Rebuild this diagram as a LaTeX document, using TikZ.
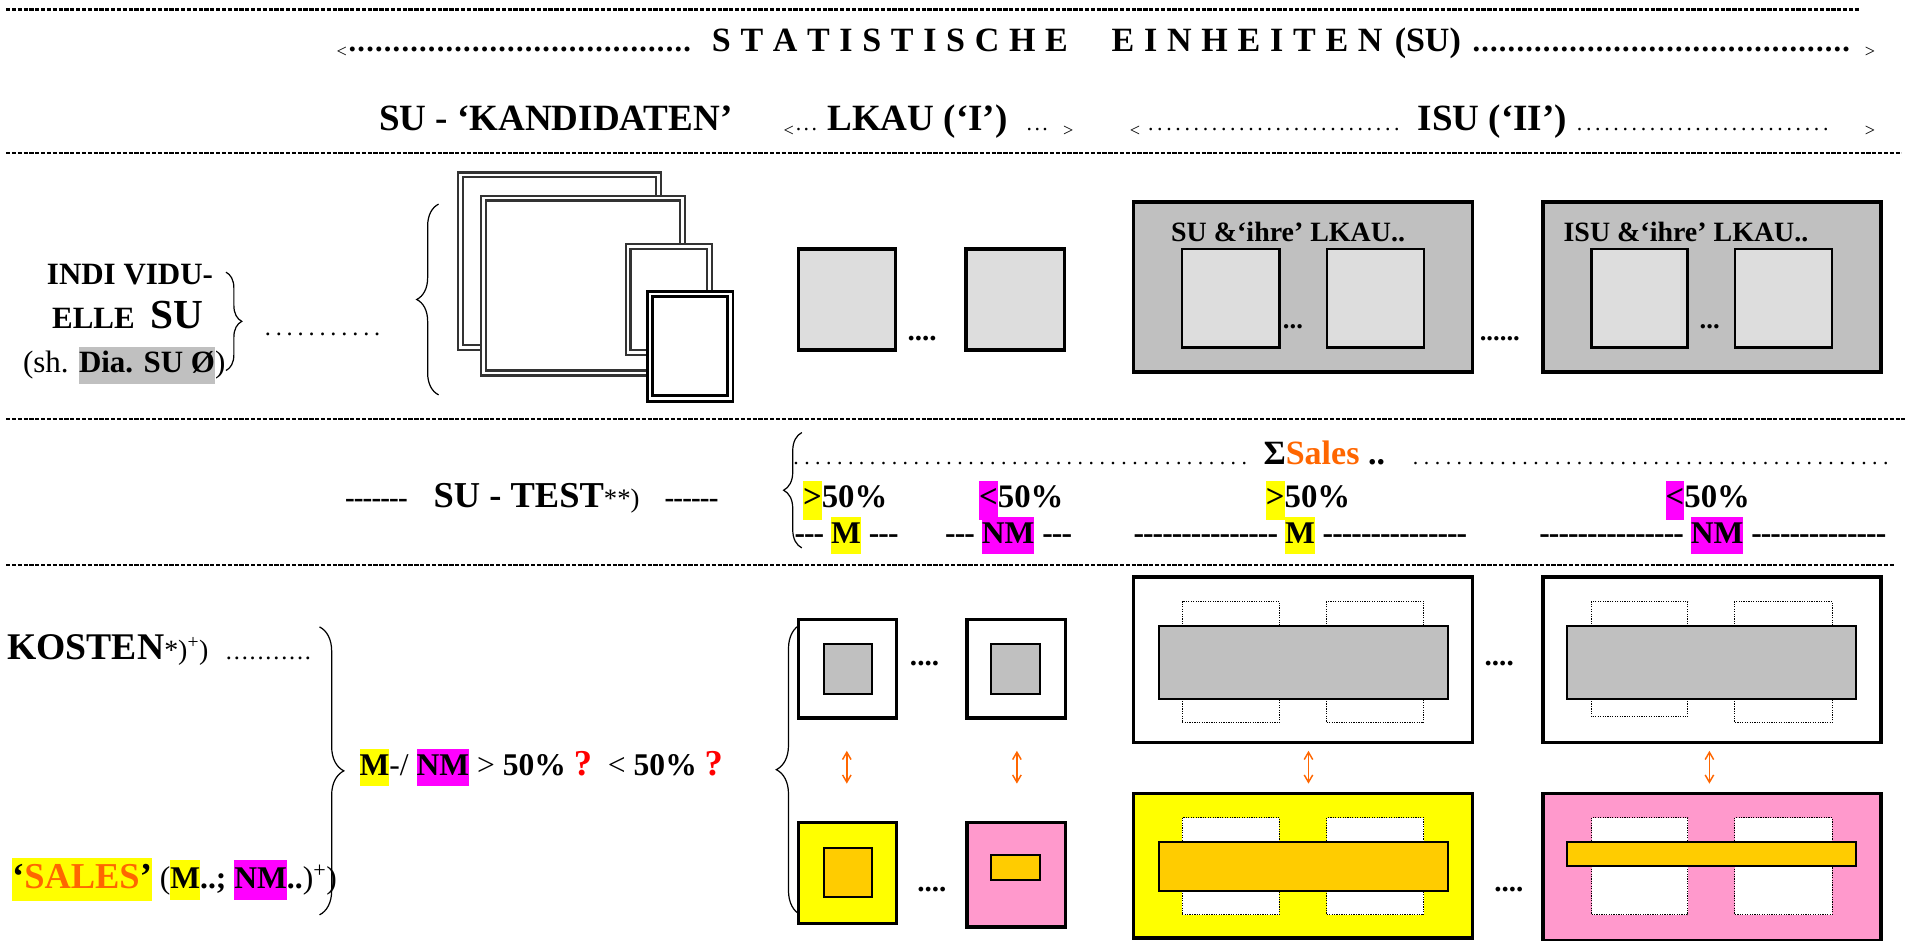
\documentclass[tikz,border=0pt]{standalone}
\usepackage{fontspec}
\setmainfont{Liberation Serif}
\usetikzlibrary{decorations.pathreplacing,arrows.meta}
\definecolor{hlyellow}{HTML}{FFFF00}
\definecolor{hlmag}{HTML}{FF00FF}
\definecolor{hlgray}{HTML}{C0C0C0}
\definecolor{lgray}{HTML}{DDDDDD}
\definecolor{pinkf}{HTML}{FF99CC}
\definecolor{goldf}{HTML}{FFCC00}
\definecolor{orangeT}{HTML}{FF6600}
\newcommand\hlc[2]{{\setlength{\fboxsep}{0pt}\colorbox{#1}{\strut #2}}}
\newcommand\fs[2]{\fontsize{#1}{#2}\selectfont}
\newcommand\dotsto[2][1pt]{\hbox to #2{\leaders\hbox{.\kern#1}\hfill}}
\ExplSyntaxOn
\cs_new:Npn \hyphs #1 { \prg_replicate:nn {#1} { -\kern-0.03em\relax } }
\ExplSyntaxOff
\tikzset{
  txt/.style={anchor=base west, inner sep=0pt, outer sep=0pt},
  ctxt/.style={anchor=base, inner sep=0pt, outer sep=0pt},
  sep/.style={line width=2.2pt, dash pattern=on 3.5pt off 1.3pt},
  brc/.style={decorate, decoration={brace, amplitude=#1}, line width=1pt},
  brc/.default=10pt,
  ovframe/.style={draw=black!80, double=white, double distance=2.2pt, line width=1.8pt, fill=white},
  ovframefour/.style={draw=black, double=white, double distance=2.2pt, line width=2.2pt, fill=white},
  lkau/.style={draw=black, line width=2.8pt, fill=lgray},
  lkaui/.style={draw=black, line width=2pt, fill=lgray},
  isu/.style={draw=black, line width=3pt, fill=hlgray},
  bigw/.style={draw=black, line width=3pt, fill=white},
  dotr/.style={draw=black, line width=0.9pt, dash pattern=on 1pt off 1pt},
  innerb/.style={draw=black, line width=1.6pt},
  oarr/.style={draw=orangeT, line width=1.2pt, {Straight Barb[length=6pt,width=7pt]}-{Straight Barb[length=6pt,width=7pt]}},
}
\begin{document}
\begin{tikzpicture}[x=1pt,y=-1pt]
\useasboundingbox (0,0) rectangle (1568,774);
% separators
\coordinate (s1a) at (5,8);   \coordinate (s1b) at (1531,8);
\coordinate (s2a) at (5,126); \coordinate (s2b) at (1565,126);
\coordinate (s3a) at (5,345); \coordinate (s3b) at (1568,345);
\coordinate (s4a) at (5,465); \coordinate (s4b) at (1559,465);
\draw[sep] (s1a) -- (s1b);
\draw[sep] (s2a) -- (s2b);
\draw[sep] (s3a) -- (s3b);
\draw[sep] (s4a) -- (s4b);
% row 1 title
\node[txt] (t1) at (277,47) {\fs{15}{18}<};
\node[txt] (t2) at (287,42) {\bfseries\fs{25}{30}\dotsto{283pt}};
\node[txt] (t3) at (586,42) {\bfseries\fs{28}{34}\hbox to 293pt{S\hfill T\hfill A\hfill T\hfill I\hfill S\hfill T\hfill I\hfill S\hfill C\hfill H\hfill E}};
\node[txt] (t4) at (915,42) {\bfseries\fs{28}{34}\hbox to 223pt{E\hfill I\hfill N\hfill H\hfill E\hfill I\hfill T\hfill E\hfill N}};
\node[txt] (t5) at (1148,42) {\bfseries\fs{28}{34}(SU)};
\node[txt] (t6) at (1212,42) {\bfseries\fs{25}{30}\dotsto{314pt}};
\node[txt] (t7) at (1535,47) {\fs{15}{18}>};
% row 2
\node[txt] (k1) at (312,107) {\bfseries\fs{30.5}{36}SU - ‘KANDIDATEN’};
\node[txt] (k2) at (645,112) {\fs{15}{18}<};
\node[txt] (k3) at (655,107) {\fs{18}{22}\dotsto[2pt]{20pt}};
\node[txt] (k4) at (681,107) {\bfseries\fs{30.5}{36}LKAU (‘I’)};
\node[txt] (k5) at (845,107) {\fs{18}{22}\dotsto[2pt]{22pt}};
\node[txt] (k6) at (875,112) {\fs{15}{18}>};
\node[txt] (k7) at (930,112) {\fs{15}{18}<};
\node[txt] (k8) at (945,107) {\fs{18}{22}\dotsto[3pt]{215pt}};
\node[txt] (k9) at (1167,107) {\bfseries\fs{30.5}{36}ISU (‘II’)};
\node[txt] (k10) at (1298,107) {\fs{18}{22}\dotsto[3pt]{217pt}};
\node[txt] (k11) at (1535,112) {\fs{15}{18}>};
% row 3 left
\node[ctxt] (i1) at (107,234) {\bfseries\fs{25.5}{30}INDI VIDU-};
\node[ctxt] (i2) at (105,270) {\bfseries\fs{25.5}{30}ELLE\ \ {\fs{34}{40}SU}};
\node[txt] (i3) at (19,307) {\fs{25.5}{30}(sh. \hlc{hlgray}{\bfseries Dia. SU Ø})};
\coordinate (b1t) at (186,224); \coordinate (b1b) at (186,305);
\draw[brc=13pt] (b1t) -- (b1b);
\node[txt] (i4) at (218,276) {\fs{20}{24}\dotsto[4pt]{104pt}};
\coordinate (b2t) at (361,168); \coordinate (b2b) at (361,325);
\draw[brc=18pt] (b2b) -- (b2t);
\draw[ovframe] (379,144) rectangle (542,286);
\draw[ovframe] (398,163) rectangle (562,307);
\draw[ovframe] (517,203) rectangle (584,290);
\draw[ovframefour] (535,242) rectangle (601,328);
% LKAU
\draw[lkau] (657,205) rectangle (737,288);
\draw[lkau] (795,205) rectangle (876,288);
\node[txt] (d1) at (747,280) {\bfseries\fs{24}{29}....};
% ISU boxes
\draw[isu] (933,166) rectangle (1212,306);
\node[txt] (u1) at (964,199) {\bfseries\fs{23}{27}SU \&‘ihre’ LKAU..};
\draw[lkaui] (973,205) rectangle (1053,286);
\draw[lkaui] (1092,205) rectangle (1172,286);
\node[txt] (d2) at (1056,270) {\bfseries\fs{22}{26}...};
\node[txt] (d3) at (1218,280) {\bfseries\fs{22}{26}......};
\draw[isu] (1270,166) rectangle (1548,306);
\node[txt] (u2) at (1287,199) {\bfseries\fs{23}{27}ISU \&‘ihre’ LKAU..};
\draw[lkaui] (1310,205) rectangle (1389,286);
\draw[lkaui] (1428,205) rectangle (1508,286);
\node[txt] (d4) at (1399,270) {\bfseries\fs{22}{26}...};
% row 4
\node[txt] (r1) at (284,418) {\bfseries\fs{24}{29}\hyphs{7}};
\node[txt] (r2) at (357,418) {{\bfseries\fs{30}{36}SU - TEST}{\fs{22}{26}**)}};
\node[txt] (r4) at (547,418) {\bfseries\fs{24}{29}\hyphs{6}};
\coordinate (b3t) at (660,356); \coordinate (b3b) at (660,451);
\draw[brc=15pt] (b3b) -- (b3t);
\node[txt] (s1) at (653,382) {\fs{18}{22}\dotsto[4.5pt]{385pt}};
\node[txt] (s2) at (1040,382) {\bfseries\fs{28}{34}Σ\textcolor{orangeT}{Sales} ..};
\node[txt] (s3) at (1163,382) {\fs{18}{22}\dotsto[4.5pt]{401pt}};
\node[txt] (p1) at (661,418) {\bfseries\fs{27}{32}\hlc{hlyellow}{>}50\%};
\node[txt] (p2) at (806,418) {\bfseries\fs{27}{32}\hlc{hlmag}{<}50\%};
\node[txt] (p3) at (1042,418) {\bfseries\fs{27}{32}\hlc{hlyellow}{>}50\%};
\node[txt] (p4) at (1371,418) {\bfseries\fs{27}{32}\hlc{hlmag}{<}50\%};
\node[txt] (m1) at (654,447) {\bfseries\fs{26}{31}\hyphs{3} \hlc{hlyellow}{M} \hyphs{3}};
\node[txt] (m2) at (778,447) {\bfseries\fs{26}{31}\hyphs{3} \hlc{hlmag}{NM} \hyphs{3}};
\node[txt] (m3) at (933,447) {\bfseries\fs{26}{31}\hyphs{15} \hlc{hlyellow}{M} \hyphs{15}};
\node[txt] (m4) at (1267,447) {\bfseries\fs{26}{31}\hyphs{15} \hlc{hlmag}{NM} \hyphs{14}};
% row 5 left
\node[txt] (c1) at (6,543) {\bfseries\fs{31}{37}KOSTEN{\mdseries\fs{23}{27}*)\textsuperscript{+})}};
\node[txt] (c2) at (186,543) {\fs{20}{24}\dotsto[1.5pt]{76pt}};
\coordinate (b4t) at (263,516); \coordinate (b4b) at (263,753);
\draw[brc=20pt] (b4t) -- (b4b);
\node[txt] (q1) at (296,638) {\fs{26}{31}\hlc{hlyellow}{\bfseries M}-/ \hlc{hlmag}{\bfseries NM} > \textbf{50\%} \textcolor{red}{\bfseries\fs{30}{36}?}\ \ < \textbf{50\%} \textcolor{red}{\bfseries\fs{30}{36}?}};
\node[txt] (q2) at (10,731) {{\fs{30}{36}\hlc{hlyellow}{\bfseries ‘\textcolor{orangeT}{SALES}’}}{\fs{26}{33} (\hlc{hlyellow}{\bfseries M}\textbf{..;} \hlc{hlmag}{\bfseries NM}\textbf{..})\textsuperscript{+})}};
\coordinate (b5t) at (659,514); \coordinate (b5b) at (659,753);
\draw[brc=20pt] (b5b) -- (b5t);
% row 5 top boxes
\draw[lkau, fill=white] (657,510) rectangle (738,591);
\draw[innerb, fill=hlgray] (678,530) rectangle (718,571);
\draw[lkau, fill=white] (796,510) rectangle (877,591);
\draw[innerb, fill=hlgray] (816,530) rectangle (856,571);
\node[txt] (d5) at (749,548) {\bfseries\fs{24}{29}....};
\draw[bigw] (933,475) rectangle (1212,611);
\draw[dotr] (973,495) rectangle (1053,595);
\draw[dotr] (1092,495) rectangle (1172,595);
\draw[innerb, fill=hlgray] (954,515) rectangle (1192,575);
\node[txt] (d6) at (1222,548) {\bfseries\fs{24}{29}....};
\draw[bigw] (1270,475) rectangle (1548,611);
\draw[dotr] (1310,495) rectangle (1389,590);
\draw[dotr] (1428,495) rectangle (1508,595);
\draw[innerb, fill=hlgray] (1290,515) rectangle (1528,575);
% arrows
\coordinate (a1t) at (697,618);  \coordinate (a1b) at (697,645);
\coordinate (a2t) at (837,618);  \coordinate (a2b) at (837,645);
\coordinate (a3t) at (1077,618); \coordinate (a3b) at (1077,645);
\coordinate (a4t) at (1407,618); \coordinate (a4b) at (1407,645);
\draw[oarr] (a1t) -- (a1b);
\draw[oarr] (a2t) -- (a2b);
\draw[oarr] (a3t) -- (a3b);
\draw[oarr] (a4t) -- (a4b);
% row 5 bottom boxes
\draw[lkau, fill=hlyellow] (657,677) rectangle (738,760);
\draw[innerb, fill=goldf] (678,698) rectangle (718,738);
\draw[lkau, fill=pinkf] (796,677) rectangle (877,763);
\draw[innerb, fill=goldf] (816,704) rectangle (856,724);
\node[txt] (d7) at (755,734) {\bfseries\fs{24}{29}....};
\draw[bigw, fill=hlyellow] (933,653) rectangle (1212,772);
\draw[dotr, fill=white] (973,673) rectangle (1053,753);
\draw[dotr, fill=white] (1092,673) rectangle (1172,753);
\draw[innerb, fill=goldf] (954,693) rectangle (1192,733);
\node[txt] (d8) at (1230,734) {\bfseries\fs{24}{29}....};
\draw[bigw, fill=pinkf] (1270,653) rectangle (1548,774);
\draw[dotr, fill=white] (1310,673) rectangle (1389,753);
\draw[dotr, fill=white] (1428,673) rectangle (1508,753);
\draw[innerb, fill=goldf] (1290,693) rectangle (1528,713);
\end{tikzpicture}
\end{document}
